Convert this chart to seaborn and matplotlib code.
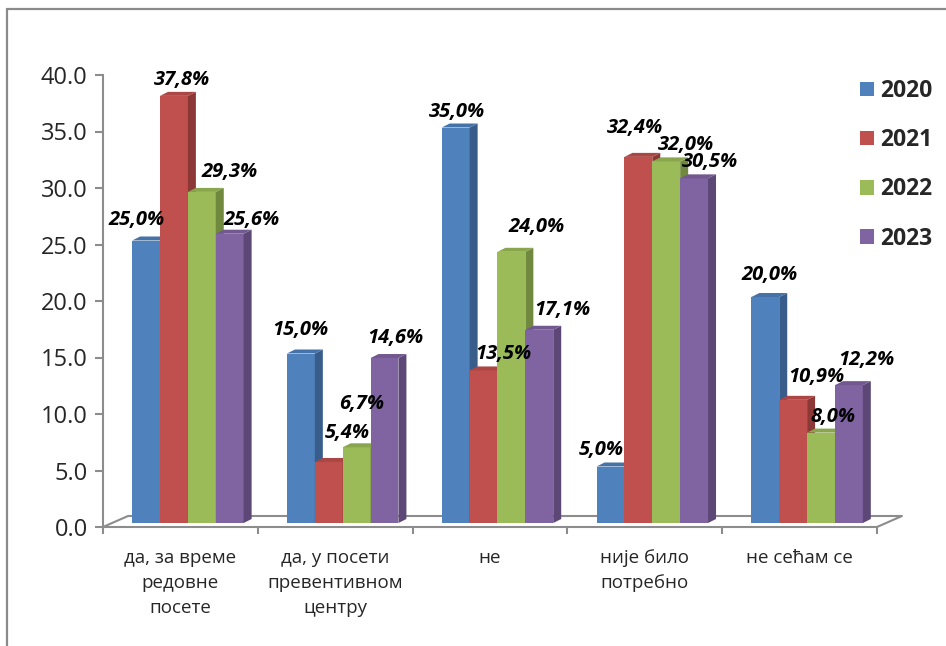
import numpy as np
import pandas as pd
import matplotlib
matplotlib.use("Agg")
import matplotlib.pyplot as plt
from matplotlib.patches import Polygon, Patch
from matplotlib.lines import Line2D
from matplotlib.transforms import ScaledTranslation
import seaborn as sns

# ---- data -------------------------------------------------------------
categories = [
    "да, за време\nредовне\nпосете",
    "да, у посети\nпревентивном\nцентру",
    "не",
    "није било\nпотребно",
    "не сећам се",
]
years = ["2020", "2021", "2022", "2023"]
share_2020 = [25.0, 15.0, 35.0, 5.0, 20.0]
share_2021 = [37.8, 5.4, 13.5, 32.4, 10.9]
share_2022 = [29.3, 6.7, 24.0, 32.0, 8.0]
share_2023 = [25.6, 14.6, 17.1, 30.5, 12.2]
y_ticks = [0, 5, 10, 15, 20, 25, 30, 35, 40]

# ---- styling ----------------------------------------------------------
front_colors = ["#4F81BD", "#C0504D", "#9BBB59", "#8064A2"]
side_colors = ["#385D8A", "#8C3836", "#71893F", "#5C4776"]
top_colors = ["#4572A7", "#AA4643", "#89A54E", "#71588F"]
axis_gray = "#8C8C8C"

# label nudges (pixels, right / down) relative to the top-centre of each bar
label_nudge = {
    "2020": [(-9, -21), (-1, -23), (1, -16), (-9, -17), (4, -22)],
    "2021": [(8, -16), (19, -29), (20, -16), (-3, -29), (23, -23)],
    "2022": [(28, -20), (5, -43), (25, -25), (20, -16), (12, -16)],
    "2023": [(22, -14), (11, -20), (23, -20), (16, -16), (17, -25)],
}

DPI = 100
W, H = 946, 646
LIFT_PX = 4          # bars stand slightly behind the front edge of the floor
DEPTH_PX = (8, 4)    # bar depth (right, up)
FLOOR_PX = (25, 11)  # floor depth (right, up)
SHIFT = 7.5 / 155    # perspective shift of the bars inside each category

sns.set_theme(style="white")
plt.rcParams["font.family"] = ["Open Sans", "DejaVu Sans"]

df = pd.DataFrame({
    "category": np.repeat(categories, len(years)),
    "year": years * len(categories),
    "share": np.array([share_2020, share_2021, share_2022, share_2023]).T.ravel(),
})

fig = plt.figure(figsize=(W / DPI, H / DPI), dpi=DPI)
ax = fig.add_axes([103 / W, 119 / H, 774 / W, 452 / H])

sns.barplot(
    data=df, x="category", y="share", hue="year",
    order=categories, hue_order=years, palette=front_colors,
    saturation=1, width=0.72, dodge=True, errorbar=None,
    legend=False, linewidth=0, ax=ax,
)

ax.set_xlim(-0.5 - SHIFT, len(categories) - 0.5 - SHIFT)
ax.set_ylim(0, 40)

# pixel -> data conversions
p0 = ax.transData.transform((0, 0))
px_x = ax.transData.transform((1, 0))[0] - p0[0]
px_y = ax.transData.transform((0, 1))[1] - p0[1]
ddx, ddy = DEPTH_PX[0] / px_x, DEPTH_PX[1] / px_y
lift = ScaledTranslation(0, LIFT_PX / DPI, fig.dpi_scale_trans)
tr = ax.transData + lift

values = {"2020": share_2020, "2021": share_2021, "2022": share_2022, "2023": share_2023}

for j, (year, cont) in enumerate(zip(years, ax.containers)):
    for k, bar in enumerate(cont.patches):
        x0, w, h = bar.get_x(), bar.get_width(), bar.get_height()
        z = 3 + j
        bar.set_transform(tr)
        bar.set_zorder(z)
        side = Polygon(
            [(x0 + w, 0), (x0 + w + ddx, ddy), (x0 + w + ddx, h + ddy), (x0 + w, h)],
            closed=True, transform=tr, facecolor=side_colors[j], lw=0,
            zorder=z, clip_on=False,
        )
        top = Polygon(
            [(x0, h), (x0 + ddx, h + ddy), (x0 + w + ddx, h + ddy), (x0 + w, h)],
            closed=True, transform=tr, facecolor=top_colors[j], lw=0,
            zorder=z, clip_on=False,
        )
        ax.add_patch(side)
        ax.add_patch(top)
        v = values[year][k]
        nx, ny = label_nudge[year][k]
        ax.annotate(
            f"{v:.1f}%".replace(".", ","),
            xy=(x0 + w / 2, v), xycoords="data",
            xytext=(nx * 72 / DPI, (-ny + LIFT_PX) * 72 / DPI),
            textcoords="offset points", ha="center", va="center",
            fontsize=14.5, fontweight="bold", fontstyle="italic",
            color="black", zorder=20, annotation_clip=False,
        )

# floor (3-D base plane)
xl, xr = ax.get_xlim()
fdx, fdy = FLOOR_PX[0] / px_x, FLOOR_PX[1] / px_y
ax.plot([xl, xl + fdx, xr + fdx, xr], [0, fdy, fdy, 0],
        color=axis_gray, lw=1.5, clip_on=False, zorder=1)

# spines and ticks
for s in ["top", "right"]:
    ax.spines[s].set_visible(False)
for s in ["left", "bottom"]:
    ax.spines[s].set_color(axis_gray)
    ax.spines[s].set_linewidth(1.5)

ax.set_yticks(y_ticks)
ax.set_yticklabels([f"{t:.1f}" for t in y_ticks])
ax.set_xticks(np.arange(len(categories) + 1) + xl)
ax.set_xticklabels([])
ax.set_xticks(np.arange(len(categories)) - SHIFT, minor=True)
ax.set_xticklabels(categories, minor=True)
ax.tick_params(axis="y", which="major", direction="out", length=6, width=1.5,
               color=axis_gray, labelsize=17, pad=5, left=True)
ax.tick_params(axis="x", which="major", direction="out", length=5, width=1.5,
               color=axis_gray, bottom=True)
ax.tick_params(axis="x", which="minor", length=0, labelsize=13.5, pad=16)
for lab in ax.get_xticklabels(minor=True):
    lab.set_linespacing(1.5)
ax.set_xlabel("")
ax.set_ylabel("")
ax.set_facecolor("white")

# legend
handles = [Patch(facecolor=c, edgecolor="none") for c in front_colors]
fig.legend(
    handles, years, loc="upper left", bbox_to_anchor=(860 / W, 1 - 79 / H),
    frameon=False, borderpad=0, borderaxespad=0, handlelength=0.6,
    handleheight=0.6, handletextpad=0.3, labelspacing=1.1,
    prop={"weight": "bold", "size": 16.5},
)

# outer frame
fig.add_artist(Line2D([7 / W, 7 / W], [0, 1 - 9 / H], transform=fig.transFigure,
                      color="#8A8A8A", lw=1.6))
fig.add_artist(Line2D([7 / W, 1], [1 - 9 / H, 1 - 9 / H], transform=fig.transFigure,
                      color="#8A8A8A", lw=1.6))

fig.savefig("out.png", dpi=DPI, facecolor="white")
